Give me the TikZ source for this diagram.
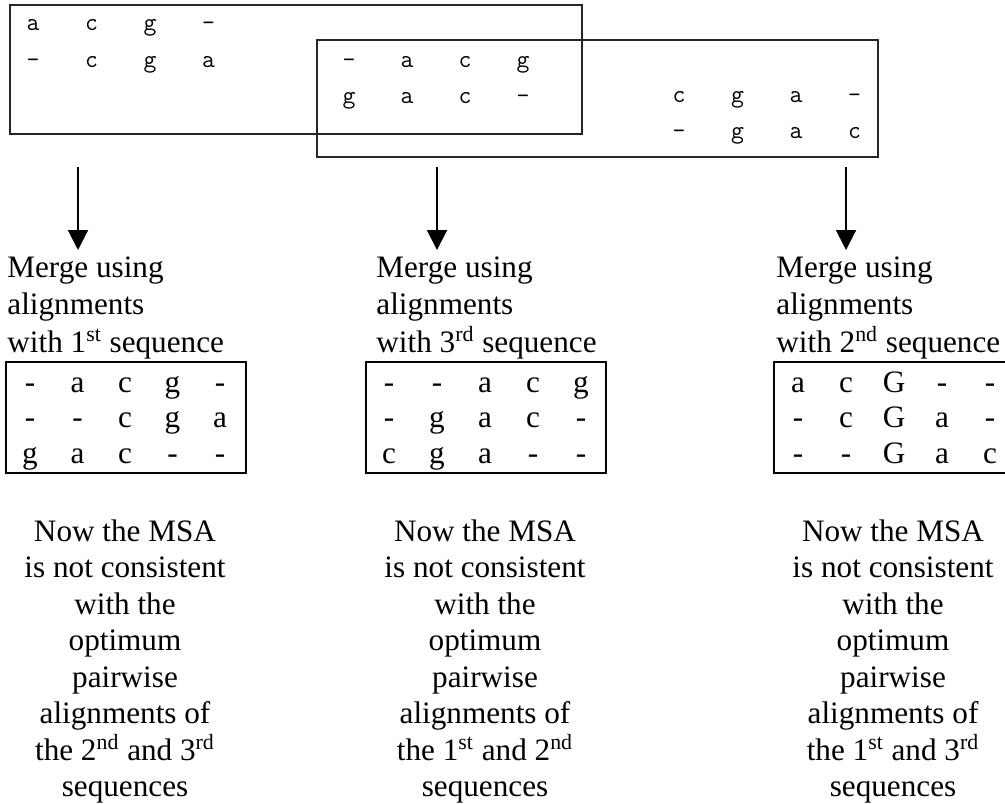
\documentclass[tikz,border=0pt]{standalone}
\usepackage{fontspec}
\setmainfont{Liberation Serif}
\usetikzlibrary{arrows.meta,calc,positioning}
\tikzstyle{residue}=[
  font={\fontsize{12.5}{14}\ttfamily},
  color=black,
  inner sep=0pt,
  anchor=base,
]
\tikzstyle{msachar}=[
  font={\fontsize{15.6}{18}\selectfont},
  inner sep=0pt,
  anchor=base,
]
\tikzstyle{pairbox}=[
  draw=black!85,
  line width=1pt,
]
\tikzstyle{msabox}=[
  draw=black,
  line width=1.4pt,
]
\tikzstyle{arrow}=[
  color=black,
  line width=1pt,
]
\tikzstyle{caption}=[
  font={\fontsize{15.6}{18.75}\selectfont},
  align=left,
  inner sep=0pt,
  anchor=north west,
]
\tikzstyle{remark}=[
  font={\fontsize{15.6}{18.25}\selectfont},
  align=center,
  inner sep=0pt,
  anchor=north,
]
\tikzset{
  >={Triangle[width=10pt,length=10pt]},
}

\begin{document}
\begin{tikzpicture}[x=0.5pt,y=-0.5pt]
  \useasboundingbox (0,0) rectangle (1005,803);
  %% pairwise alignments
  \draw [pairbox] (10,5) rectangle (582,134);
  \draw [pairbox] (317,40) rectangle (878,157);
  \foreach \row [count=\r] in {{a,c,g,-},{-,c,g,a}}
    \foreach \ch [count=\i] in \row
      \node (p1-\r-\i) [residue] at ({33+58.5*(\i-1)},{31+36*(\r-1)}) {\ch};
  \foreach \row [count=\r] in {{-,a,c,g},{g,a,c,-}}
    \foreach \ch [count=\i] in \row
      \node (p2-\r-\i) [residue] at ({349+58*(\i-1)},{67+36*(\r-1)}) {\ch};
  \foreach \row [count=\r] in {{c,g,a,-},{-,g,a,c}}
    \foreach \ch [count=\i] in \row
      \node (p3-\r-\i) [residue] at ({679+58.5*(\i-1)},{102+36*(\r-1)}) {\ch};
  %%
  \coordinate (s1) at (78,167);
  \coordinate (t1) at (78,250);
  \coordinate (s2) at (437,167);
  \coordinate (t2) at (437,250);
  \coordinate (s3) at (846,167);
  \coordinate (t3) at (846,250);
  \draw [->, arrow] (s1) -- (t1);
  \draw [->, arrow] (s2) -- (t2);
  \draw [->, arrow] (s3) -- (t3);
  %%
  \node (merge1) [caption] at (7,256) {Merge using\\alignments\\with 1\textsuperscript{st} sequence};
  \node (merge2) [caption] at (376,256) {Merge using\\alignments\\with 3\textsuperscript{rd} sequence};
  \node (merge3) [caption] at (776,256) {Merge using\\alignments\\with 2\textsuperscript{nd} sequence};
  %% merged MSAs
  \draw [msabox] (6,362) rectangle (246,473);
  \draw [msabox] (366,362) rectangle (606,473);
  \draw [msabox] (1010,362) -- (774,362) -- (774,473) -- (1010,473);
  \foreach \row [count=\r] in {{-,a,c,g,-},{-,-,c,g,a},{g,a,c,-,-}}
    \foreach \ch [count=\i] in \row
      \node (m1-\r-\i) [msachar] at ({30+47.5*(\i-1)},{392+35.5*(\r-1)}) {\ch};
  \foreach \row [count=\r] in {{-,-,a,c,g},{-,g,a,c,-},{c,g,a,-,-}}
    \foreach \ch [count=\i] in \row
      \node (m2-\r-\i) [msachar] at ({389+48*(\i-1)},{392+35.5*(\r-1)}) {\ch};
  \foreach \row [count=\r] in {{a,c,G,-,-},{-,c,G,a,-},{-,-,G,a,c}}
    \foreach \ch [count=\i] in \row
      \node (m3-\r-\i) [msachar] at ({798+48*(\i-1)},{392+35.5*(\r-1)}) {\ch};
  %%
  \node (note1) [remark] at (125,519) {Now the MSA\\is not consistent\\with the\\optimum\\pairwise\\alignments of\\the 2\textsuperscript{nd} and 3\textsuperscript{rd}\\sequences};
  \node (note2) [remark] at (485,519) {Now the MSA\\is not consistent\\with the\\optimum\\pairwise\\alignments of\\the 1\textsuperscript{st} and 2\textsuperscript{nd}\\sequences};
  \node (note3) [remark] at (893,519) {Now the MSA\\is not consistent\\with the\\optimum\\pairwise\\alignments of\\the 1\textsuperscript{st} and 3\textsuperscript{rd}\\sequences};
\end{tikzpicture}
\end{document}
